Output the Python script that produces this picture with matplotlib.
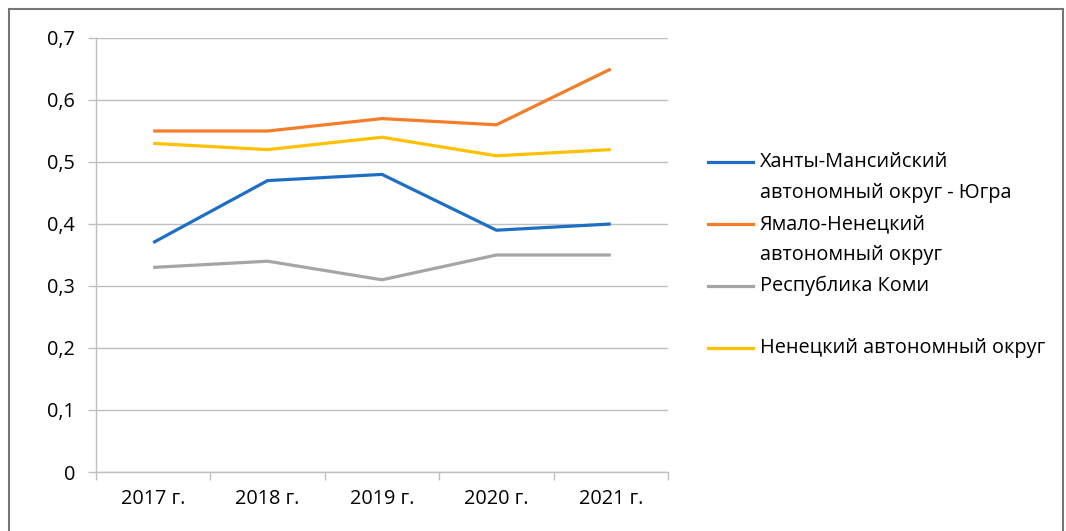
import numpy as np
import matplotlib
matplotlib.use("Agg")
import matplotlib.pyplot as plt
from matplotlib.lines import Line2D
from matplotlib.patches import Rectangle
from matplotlib.ticker import FuncFormatter

plt.rcParams['font.family'] = ['Open Sans', 'DejaVu Sans']

years = ["2017 г.", "2018 г.", "2019 г.", "2020 г.", "2021 г."]
khmao = [0.37, 0.47, 0.48, 0.39, 0.40]
yanao = [0.55, 0.55, 0.57, 0.56, 0.65]
komi = [0.33, 0.34, 0.31, 0.35, 0.35]
nao = [0.53, 0.52, 0.54, 0.51, 0.52]

series = [
    (["Ханты-Мансийский", "автономный округ - Югра"], khmao, "#1F6EC6"),
    (["Ямало-Ненецкий", "автономный округ"], yanao, "#F57C28"),
    (["Республика Коми"], komi, "#A5A5A5"),
    (["Ненецкий автономный округ"], nao, "#FFC000"),
]

W, H = 1066, 531
fig = plt.figure(figsize=(W / 100, H / 100), dpi=100)
ax = fig.add_axes([96 / W, 1 - 472 / H, (668 - 96) / W, (472 - 38) / H])

x = np.arange(len(years))
for _, vals, col in series:
    ax.plot(x, vals, color=col, lw=2.3, solid_capstyle='butt', solid_joinstyle='round')

grid_col = "#BFBFBF"
fs = 14.3
ax.set_xlim(-0.5, len(years) - 0.5)
ax.set_ylim(0, 0.7)
ax.set_yticks(np.arange(0, 0.71, 0.1))
ax.yaxis.set_major_formatter(FuncFormatter(lambda v, p: "0" if abs(v) < 1e-9 else f"{v:.1f}".replace(".", ",")))
ax.grid(axis='y', color=grid_col, lw=1.0)
ax.set_axisbelow(True)
ax.set_xticks(x)
ax.set_xticklabels(years)
ax.set_xticks(np.arange(-0.5, len(years), 1.0), minor=True)
ax.tick_params(axis='x', which='major', length=0, pad=12, labelsize=fs)
ax.tick_params(axis='x', which='minor', length=6, color=grid_col, width=1.0)
ax.tick_params(axis='y', length=6, color=grid_col, width=1.0, pad=9, labelsize=fs)
for s in ['top', 'right']:
    ax.spines[s].set_visible(False)
for s in ['left', 'bottom']:
    ax.spines[s].set_color(grid_col)
    ax.spines[s].set_linewidth(1.0)

# legend drawn Excel-style: handle aligned with first line of each entry
leg_y = [162, 224, 286, 348]
for (lines, _, col), yy in zip(series, leg_y):
    fig.add_artist(Line2D([708 / W, 753 / W], [1 - yy / H] * 2, color=col, lw=2.3, transform=fig.transFigure))
    for i, t in enumerate(lines):
        fig.text(760 / W, 1 - (yy + 31 * i) / H, t, fontsize=fs, va='center', ha='left')

fig.add_artist(Rectangle((9 / W, -0.05), (1063 - 9) / W, 1.05 - 9 / H, fill=False,
                         edgecolor="#767676", lw=1.5, transform=fig.transFigure))

fig.savefig("out.png", dpi=100)
